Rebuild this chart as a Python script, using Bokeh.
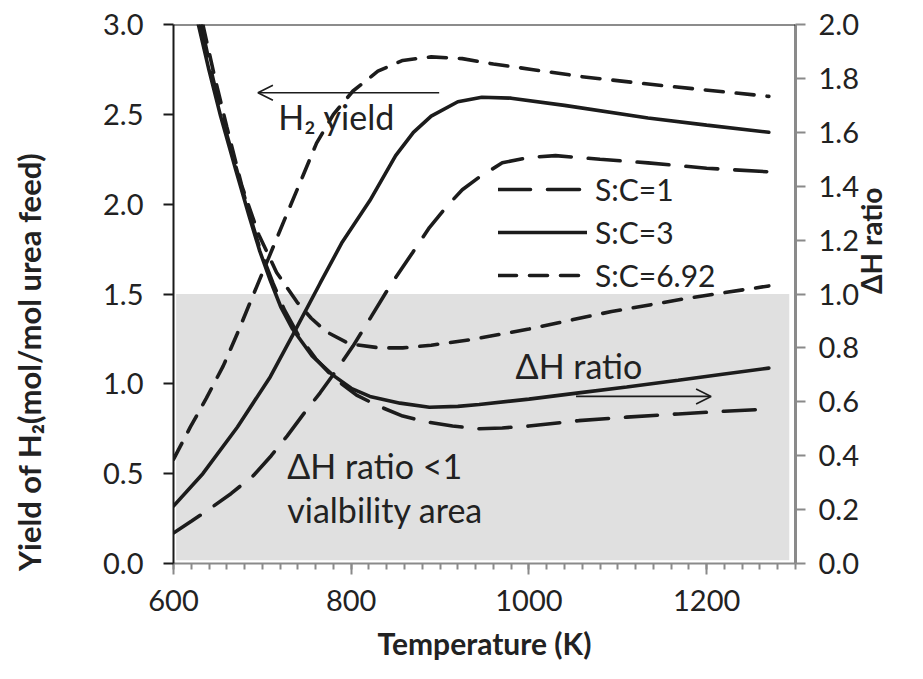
import math
from bokeh.plotting import figure
from bokeh.models import (Range1d, LinearAxis, FixedTicker, PrintfTickFormatter, Span,
                          Label, Arrow, OpenHead, Legend, LegendItem)
from bokeh.embed import file_html
from bokeh.resources import INLINE

# ---------------- data ----------------
# H2 yield (left axis, mol/mol urea feed)
t_yield_sc1 = [600, 620, 641, 665, 690, 710, 728, 746, 765, 784, 802, 822, 843, 869, 888, 907,
               925, 944, 970, 1000, 1030, 1080, 1134, 1200, 1270]
yield_sc1 = [0.17, 0.235, 0.305, 0.39, 0.49, 0.60, 0.71, 0.83, 0.95, 1.08, 1.21, 1.37, 1.54, 1.73,
             1.87, 1.985, 2.08, 2.15, 2.23, 2.26, 2.27, 2.25, 2.23, 2.20, 2.18]

t_yield_sc3 = [600, 633, 672, 709, 734, 765, 790, 821, 850, 870, 890, 920, 947, 980, 1040, 1134,
               1200, 1270]
yield_sc3 = [0.32, 0.50, 0.76, 1.04, 1.27, 1.56, 1.79, 2.02, 2.27, 2.40, 2.49, 2.57, 2.595, 2.59,
             2.55, 2.48, 2.44, 2.40]

t_yield_sc692 = [600, 619, 637, 656, 671, 686, 707, 728, 745, 761, 780, 802, 830, 858, 890, 925,
                 960, 1003, 1059, 1150, 1270]
yield_sc692 = [0.58, 0.76, 0.92, 1.10, 1.27, 1.45, 1.70, 1.95, 2.15, 2.34, 2.50, 2.63, 2.74, 2.80,
               2.82, 2.81, 2.78, 2.75, 2.71, 2.66, 2.60]

# Delta H ratio (right axis)
t_dh_sc1 = [631, 643, 655, 673, 687, 698, 712, 725, 740, 760, 780, 806, 830, 858, 885, 914, 944,
            970, 1000, 1056, 1110, 1168, 1220, 1270]
dh_sc1 = [2.00, 1.82, 1.65, 1.44, 1.28, 1.16, 1.04, 0.94, 0.85, 0.76, 0.69, 0.625, 0.585, 0.547,
          0.525, 0.51, 0.50, 0.503, 0.51, 0.53, 0.543, 0.555, 0.565, 0.573]

t_dh_sc3 = [628, 640, 653, 671, 685, 697, 709, 721, 734, 756, 779, 800, 821, 855, 888, 920, 944,
            1000, 1056, 1110, 1168, 1220, 1270]
dh_sc3 = [2.00, 1.83, 1.66, 1.45, 1.29, 1.16, 1.05, 0.95, 0.87, 0.77, 0.70, 0.65, 0.62, 0.595,
          0.58, 0.583, 0.59, 0.61, 0.633, 0.655, 0.68, 0.703, 0.725]

t_dh_sc692 = [633, 646, 660, 677, 696, 716, 739, 755, 772, 798, 832, 858, 890, 933, 1000, 1050,
              1093, 1180, 1270]
dh_sc692 = [2.00, 1.81, 1.62, 1.40, 1.22, 1.08, 0.97, 0.91, 0.86, 0.815, 0.80, 0.80, 0.81, 0.83,
            0.87, 0.905, 0.935, 0.985, 1.03]

series_labels = ["S:C=1", "S:C=3", "S:C=6.92"]

# shaded viability area (Delta H ratio < 1)
area_x = [603, 1293]
area_dh = [0.012, 1.0]

# axes
x_range_vals = [600, 1300]
left_range_vals = [0, 3.0]
right_range_vals = [0, 2.0]
x_major_ticks = [600, 800, 1000, 1200]
x_minor_ticks = list(range(600, 1301, 20))
left_ticks = [0.0, 0.5, 1.0, 1.5, 2.0, 2.5, 3.0]
right_ticks = [0.0, 0.2, 0.4, 0.6, 0.8, 1.0, 1.2, 1.4, 1.6, 1.8, 2.0]

# annotations
h2_arrow_x = [899, 695]
h2_arrow_y = [2.62, 2.62]
dh_arrow_x = [1053, 1205]
dh_arrow_y = [0.62, 0.62]

# ---------------- figure ----------------
FONT = "Lato"
TXT = "#222222"
LINE = "#1c1c1c"
GRAY = "#8a8a8a"
TICK_FS = "29px"

p = figure(width=907, height=663, output_backend="svg", toolbar_location=None,
           x_range=Range1d(*x_range_vals), y_range=Range1d(*left_range_vals),
           min_border_left=173, min_border_right=109, min_border_top=24, min_border_bottom=98)
p.extra_y_ranges = {"dh": Range1d(*right_range_vals)}
p.xgrid.visible = False
p.ygrid.visible = False
p.outline_line_color = None
p.background_fill_color = "white"
p.border_fill_color = "white"

# shaded area
p.quad(left=[area_x[0]], right=[area_x[1]], bottom=[area_dh[0]], top=[area_dh[1]],
       y_range_name="dh", fill_color="#e0e0e0", line_color=None)

# top border
p.add_layout(Span(location=left_range_vals[1], dimension="width", line_color="#1a1a1a", line_width=2))

LW = 3.6
dash_long = "32 17"
dash_short = "18 13"

r1 = p.line(t_yield_sc1, yield_sc1, line_color=LINE, line_width=LW, line_dash=dash_long, line_cap="round")
r3 = p.line(t_yield_sc3, yield_sc3, line_color=LINE, line_width=LW, line_cap="round")
r692 = p.line(t_yield_sc692, yield_sc692, line_color=LINE, line_width=LW, line_dash=dash_short, line_cap="round")

p.line(t_dh_sc1, dh_sc1, y_range_name="dh", line_color=LINE, line_width=LW, line_dash=dash_long, line_cap="round")
p.line(t_dh_sc3, dh_sc3, y_range_name="dh", line_color=LINE, line_width=LW, line_cap="round")
p.line(t_dh_sc692, dh_sc692, y_range_name="dh", line_color=LINE, line_width=LW, line_dash=dash_short, line_cap="round")

# axes styling
xa = p.xaxis[0]
xa.ticker = FixedTicker(ticks=x_major_ticks, minor_ticks=x_minor_ticks)
xa.axis_line_color = GRAY
xa.axis_line_width = 2
xa.major_tick_line_color = GRAY
xa.major_tick_line_width = 2
xa.major_tick_out = 11
xa.major_tick_in = 0
xa.minor_tick_line_color = GRAY
xa.minor_tick_line_width = 2
xa.minor_tick_out = 6
xa.minor_tick_in = 0
xa.major_label_text_font = FONT
xa.major_label_text_font_size = TICK_FS
xa.major_label_text_color = TXT
xa.major_label_standoff = 15
xa.axis_label = "Temperature (K)"
xa.axis_label_text_font = FONT
xa.axis_label_text_font_size = "30px"
xa.axis_label_text_font_style = "bold"
xa.axis_label_text_color = TXT
xa.axis_label_standoff = 11

ya = p.yaxis[0]
ya.ticker = FixedTicker(ticks=left_ticks)
ya.formatter = PrintfTickFormatter(format="%.1f")
ya.axis_line_color = "#1a1a1a"
ya.axis_line_width = 2
ya.major_tick_line_color = "#1a1a1a"
ya.major_tick_line_width = 2
ya.major_tick_out = 10
ya.major_tick_in = 0
ya.minor_tick_line_color = None
ya.major_label_text_font = FONT
ya.major_label_text_font_size = TICK_FS
ya.major_label_text_color = TXT
ya.major_label_standoff = 20
# trailing no-break spaces shift the centred title down, as in the reference
ya.axis_label = "Yield of H\u2082(mol/mol urea feed)" + "\u00a0" * 18
ya.axis_label_text_font = FONT
ya.axis_label_text_font_size = "31px"
ya.axis_label_text_font_style = "bold"
ya.axis_label_text_color = TXT
ya.axis_label_standoff = 52

ra = LinearAxis(y_range_name="dh", ticker=FixedTicker(ticks=right_ticks),
                formatter=PrintfTickFormatter(format="%.1f"))
ra.axis_line_color = GRAY
ra.axis_line_width = 3
ra.major_tick_line_color = GRAY
ra.major_tick_line_width = 2
ra.major_tick_out = 10
ra.major_tick_in = 0
ra.minor_tick_line_color = None
ra.major_label_text_font = FONT
ra.major_label_text_font_size = TICK_FS
ra.major_label_text_color = TXT
ra.major_label_standoff = 13
ra.axis_label = "\u0394H ratio"
ra.axis_label_text_font = FONT
ra.axis_label_text_font_size = "28px"
ra.axis_label_text_font_style = "bold"
ra.axis_label_text_color = TXT
ra.axis_label_standoff = 9
ra.axis_label_orientation = math.pi / 2
p.add_layout(ra, "right")

# annotations
p.add_layout(Arrow(end=OpenHead(size=15, line_width=1.6, line_color=LINE),
                   x_start=h2_arrow_x[0], y_start=h2_arrow_y[0], x_end=h2_arrow_x[1], y_end=h2_arrow_y[1],
                   line_width=1.6, line_color=LINE))
p.add_layout(Arrow(end=OpenHead(size=15, line_width=1.6, line_color=LINE),
                   x_start=dh_arrow_x[0], y_start=dh_arrow_y[0], x_end=dh_arrow_x[1], y_end=dh_arrow_y[1],
                   y_range_name="dh", line_width=1.6, line_color=LINE))

def add_text(x, y, s):
    p.add_layout(Label(x=x, y=y, text=s, text_align="left", text_baseline="alphabetic",
                       text_font=FONT, text_font_size="34px", text_color=TXT))

add_text(718, 2.49, "H\u2082 yield")
add_text(985, 1.10, "\u0394H ratio")
add_text(728, 0.547, "\u0394H ratio <1")
add_text(728, 0.303, "vialbility area")

legend = Legend(items=[LegendItem(label=series_labels[0], renderers=[r1]),
                       LegendItem(label=series_labels[1], renderers=[r3]),
                       LegendItem(label=series_labels[2], renderers=[r692])],
                location=(325, 270), glyph_width=89, glyph_height=30, spacing=7,
                label_standoff=8, padding=0, margin=0, border_line_color=None,
                background_fill_alpha=0, label_text_font=FONT, label_text_font_size="30px",
                label_text_color=TXT)
p.add_layout(legend)

open("out.html", "w").write(file_html(p, INLINE))
